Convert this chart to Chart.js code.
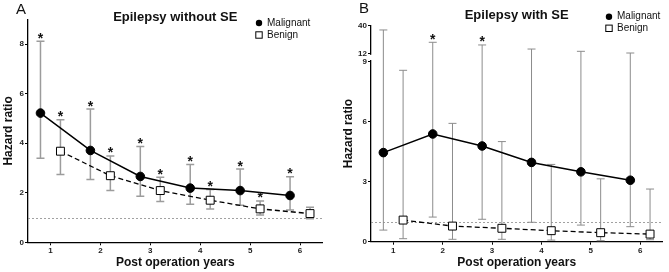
<!DOCTYPE html>
<html>
<head>
<meta charset="utf-8">
<script src="https://cdn.jsdelivr.net/npm/chart.js@4.4.0/dist/chart.umd.min.js"></script>
<style>
html, body { margin: 0; padding: 0; background: #fff; }
#wrap { position: relative; width: 669px; height: 272px; overflow: hidden; }
canvas { position: absolute; top: 0; }
#cA { left: 0; }
#cB { left: 330px; }
</style>
</head>
<body>
<div id="wrap">
  <canvas id="cA" width="330" height="272"></canvas>
  <canvas id="cB" width="339" height="272"></canvas>
</div>
<script>
// Hazard ratio by post-operation year, malignant vs benign

const years = [1, 2, 3, 4, 5, 6];
const xMal = [0.8, 1.8, 2.8, 3.8, 4.8, 5.8];
const xBen = [1.2, 2.2, 3.2, 4.2, 5.2, 6.2];

// A: epilepsy without SE
const malA   = [5.22, 3.71, 2.66, 2.19, 2.09, 1.89];
const malALo = [3.40, 2.54, 1.86, 1.54, 1.50, 1.30];
const malAHi = [8.12, 5.38, 3.87, 3.14, 2.96, 2.65];
const starMalA = [1, 1, 1, 1, 1, 1];
const benA   = [3.68, 2.69, 2.09, 1.70, 1.35, 1.16];
const benALo = [2.74, 2.09, 1.65, 1.35, 1.10, 0.95];
const benAHi = [4.95, 3.49, 2.63, 2.13, 1.67, 1.42];
const starBenA = [1, 1, 1, 1, 1, 0];

// B: epilepsy with SE
const malB   = [4.45, 5.38, 4.78, 3.96, 3.49, 3.07];
const malBLo = [0.58, 1.23, 1.12, 0.97, 0.83, 0.75];
const malBHi = [35.5, 23.1, 20.4, 16.3, 14.0, 12.3];
const starMalB = [0, 1, 1, 0, 0, 0];
const benB   = [1.08, 0.78, 0.67, 0.55, 0.45, 0.38];
const benBLo = [0.15, 0.12, 0.12, 0.08, 0.05, 0.10];
const benBHi = [8.56, 5.91, 5.00, 3.86, 3.14, 2.63];
const starBenB = [0, 0, 0, 0, 0, 0];

const ticksA = [0, 2, 4, 6, 8];
const ticksB = [0, 3, 6, 9, 12, 40];

Chart.defaults.font.family = '"Liberation Sans", Arial, sans-serif';
Chart.defaults.color = '#111';

// eje con corte: 0-9 abajo, 12-40 comprimido arriba
const BRK_LO = 9, BRK_HI = 12, FRAC_LO = 0.8335, FRAC_HI = 0.8714;
class BrokenScale extends Chart.LinearScale {
  getPixelForValue(v) {
    if (v === null || isNaN(v)) return NaN;
    let d;
    if (v <= BRK_LO) d = (v - this.min) / (BRK_LO - this.min) * FRAC_LO;
    else if (v >= BRK_HI) d = FRAC_HI + (v - BRK_HI) / (this.max - BRK_HI) * (1 - FRAC_HI);
    else d = FRAC_LO + (v - BRK_LO) / (BRK_HI - BRK_LO) * (FRAC_HI - FRAC_LO);
    return this.getPixelForDecimal(d);
  }
  getValueForPixel(p) {
    const d = this.getDecimalForPixel(p);
    if (d <= FRAC_LO) return this.min + d / FRAC_LO * (BRK_LO - this.min);
    if (d >= FRAC_HI) return BRK_HI + (d - FRAC_HI) / (1 - FRAC_HI) * (this.max - BRK_HI);
    return BRK_LO + (d - FRAC_LO) / (FRAC_HI - FRAC_LO) * (BRK_HI - BRK_LO);
  }
}
BrokenScale.id = 'broken';
BrokenScale.defaults = {};
Chart.register(BrokenScale);

// barras de error, asteriscos, línea de referencia, leyenda y títulos
const extras = {
  id: 'extras',
  beforeDatasetsDraw(chart, args, o) {
    const { ctx, chartArea: a, scales: { x, y } } = chart;
    ctx.save();
    ctx.strokeStyle = '#8a8a8a';
    ctx.lineWidth = 0.8;
    ctx.setLineDash([2, 2]);
    const yr = Math.round(y.getPixelForValue(1)) + 0.5;
    ctx.beginPath(); ctx.moveTo(a.left, yr); ctx.lineTo(a.right, yr); ctx.stroke();
    ctx.setLineDash([]);
    ctx.strokeStyle = o.barColor;
    ctx.lineWidth = o.barWidth;
    chart.data.datasets.forEach(ds => {
      ds.data.forEach((pt, i) => {
        const px = x.getPixelForValue(pt.x);
        const lo = y.getPixelForValue(ds.lo[i]);
        const hi = y.getPixelForValue(ds.hi[i]);
        ctx.beginPath();
        ctx.moveTo(px, lo); ctx.lineTo(px, hi);
        ctx.moveTo(px - 4, lo); ctx.lineTo(px + 4, lo);
        ctx.moveTo(px - 4, hi); ctx.lineTo(px + 4, hi);
        ctx.stroke();
      });
    });
    ctx.restore();
  },
  afterDraw(chart, args, o) {
    const { ctx, chartArea: a, scales: { x, y } } = chart;
    ctx.save();
    // asteriscos
    ctx.fillStyle = '#111';
    ctx.font = 'bold 14px "Liberation Sans", Arial, sans-serif';
    ctx.textAlign = 'center';
    ctx.textBaseline = 'alphabetic';
    chart.data.datasets.forEach(ds => {
      ds.data.forEach((pt, i) => {
        if (!ds.stars[i]) return;
        ctx.fillText('*', x.getPixelForValue(pt.x), y.getPixelForValue(ds.hi[i]) + 1.5);
      });
    });
    // corte del eje
    if (o.gap) {
      ctx.fillStyle = '#fff';
      const g1 = y.getPixelForValue(BRK_HI) + 1.5, g2 = y.getPixelForValue(BRK_LO) - 1.5;
      ctx.fillRect(a.left - 1.5, g1, 3, g2 - g1);
    }
    // título y letra del panel
    ctx.fillStyle = '#111';
    ctx.font = 'bold 13px "Liberation Sans", Arial, sans-serif';
    ctx.textAlign = 'center';
    ctx.fillText(o.title, (a.left + a.right) / 2, o.titleY);
    ctx.font = '15px "Liberation Sans", Arial, sans-serif';
    ctx.textAlign = 'left';
    ctx.fillText(o.letter, o.letterX, o.letterY);
    // leyenda
    ctx.font = '10px "Liberation Sans", Arial, sans-serif';
    ctx.textBaseline = 'middle';
    chart.data.datasets.forEach((ds, i) => {
      const cy = o.legY + i * o.legDy;
      ctx.lineWidth = 1;
      ctx.strokeStyle = '#000';
      if (ds.pointStyle === 'circle') {
        ctx.fillStyle = '#000';
        ctx.beginPath(); ctx.arc(o.legX, cy, 3.2, 0, Math.PI * 2); ctx.fill();
      } else {
        ctx.fillStyle = '#fff';
        ctx.fillRect(o.legX - 3.2, cy - 3.2, 6.4, 6.4);
        ctx.strokeRect(o.legX - 3.2, cy - 3.2, 6.4, 6.4);
      }
      ctx.fillStyle = '#111';
      ctx.fillText(ds.label, o.legX + 8, cy);
    });
    ctx.restore();
  }
};

function mkSets(mal, malLo, malHi, starM, ben, benLo, benHi, starB) {
  return [
    {
      label: 'Malignant',
      data: xMal.map((x, i) => ({ x, y: mal[i] })),
      lo: malLo, hi: malHi, stars: starM,
      borderColor: '#000', backgroundColor: '#000', borderWidth: 1.5,
      pointStyle: 'circle', pointRadius: 4.3, pointBorderWidth: 1, tension: 0
    },
    {
      label: 'Benign',
      data: xBen.map((x, i) => ({ x, y: ben[i] })),
      lo: benLo, hi: benHi, stars: starB,
      borderColor: '#000', backgroundColor: '#fff', borderWidth: 1.3, borderDash: [5, 3],
      pointStyle: 'rect', pointRadius: 5.6, pointBackgroundColor: '#fff',
      pointBorderColor: '#000', pointBorderWidth: 1, tension: 0
    }
  ];
}

function mkOptions(c) {
  return {
    responsive: false,
    animation: false,
    layout: { padding: { top: c.top, right: c.right, left: 0, bottom: 0 } },
    plugins: { legend: { display: false }, tooltip: { enabled: false }, extras: c.extras },
    scales: {
      x: {
        type: 'linear', min: 0.55, max: 6.45,
        afterBuildTicks: s => { s.ticks = years.map(v => ({ value: v })); },
        afterFit: s => { s.height = c.xH; },
        grid: { drawOnChartArea: false, tickLength: 3, color: '#000', lineWidth: 1 },
        border: { color: '#000', width: 1.3 },
        ticks: { font: { size: 8, weight: 'bold' }, padding: 1, color: '#222', maxRotation: 0 },
        title: { display: true, text: 'Post operation years', color: '#111',
                 font: { size: 12, weight: 'bold' }, padding: { top: 0, bottom: 1.8 } }
      },
      y: {
        type: c.yType, min: 0, max: c.yMax,
        afterBuildTicks: s => { s.ticks = c.yTicks.map(v => ({ value: v })); },
        afterFit: s => { s.width = c.yW; },
        grid: { drawOnChartArea: false, tickLength: 3, color: '#000', lineWidth: 1 },
        border: { color: '#000', width: 1.3 },
        ticks: { font: { size: 8, weight: 'bold' }, padding: 1, color: '#222' },
        title: { display: true, text: 'Hazard ratio', color: '#111',
                 font: { size: 12, weight: 'bold' }, padding: { top: c.yTitlePad, bottom: 0 } }
      }
    }
  };
}

new Chart(document.getElementById('cA'), {
  type: 'line',
  data: { datasets: mkSets(malA, malALo, malAHi, starMalA, benA, benALo, benAHi, starBenA) },
  options: mkOptions({
    top: 19.5, right: 7.5, xH: 29.7, yW: 28, yType: 'linear', yMax: 9, yTicks: ticksA, yTitlePad: 1,
    extras: { barColor: '#9c9c9c', barWidth: 1.5, title: 'Epilepsy without SE', titleY: 21,
              letter: 'A', letterX: 16, letterY: 14, legX: 259, legY: 23, legDy: 12, gap: false }
  }),
  plugins: [extras]
});

new Chart(document.getElementById('cB'), {
  type: 'line',
  data: { datasets: mkSets(malB, malBLo, malBHi, starMalB, benB, benBLo, benBHi, starBenB) },
  options: mkOptions({
    top: 25.5, right: 1, xH: 30.3, yW: 41, yType: 'broken', yMax: 40, yTicks: ticksB, yTitlePad: 11.3,
    extras: { barColor: '#8c8c8c', barWidth: 1, title: 'Epilepsy with SE', titleY: 19,
              letter: 'B', letterX: 29, letterY: 12.5, legX: 279, legY: 16.7, legDy: 11.6, gap: true }
  }),
  plugins: [extras]
});
</script>
</body>
</html>
